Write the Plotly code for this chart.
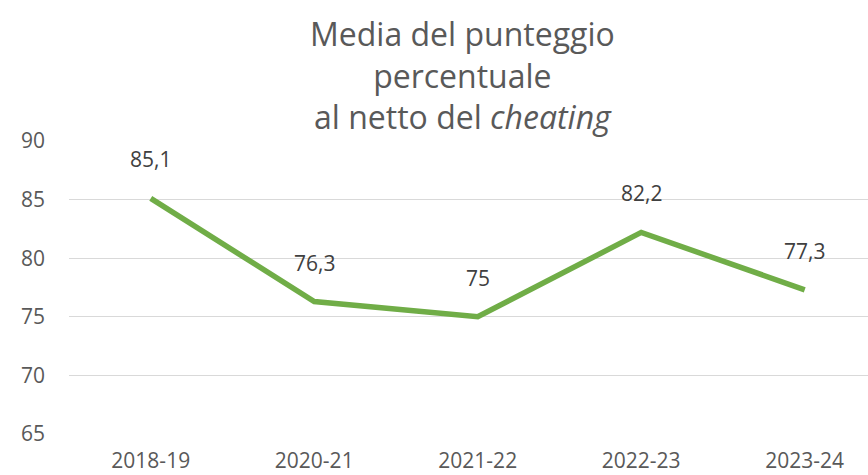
import plotly.graph_objects as go

categories = ["2018-19", "2020-21", "2021-22", "2022-23", "2023-24"]
values = [85.1, 76.3, 75, 82.2, 77.3]
y_ticks = [65, 70, 75, 80, 85, 90]

FONT = "Open Sans"
GRAY = "#595959"

fig = go.Figure()
fig.add_trace(go.Scatter(
    x=categories, y=values, mode="lines",
    line=dict(color="#70AD47", width=5.5),
    hoverinfo="skip", showlegend=False,
))

for c, v in zip(categories, values):
    fig.add_annotation(
        x=c, y=v, text=f"{v:g}".replace(".", ","), showarrow=False,
        yanchor="middle", yshift=39,
        font=dict(family=FONT, size=21, color="#404040"),
    )

fig.add_annotation(
    text="Media del punteggio<br>percentuale<br>al netto del <i>cheating</i>",
    xref="paper", yref="paper", x=0.4919, y=1.2250,
    xanchor="center", yanchor="middle", showarrow=False,
    font=dict(family=FONT, size=32, color=GRAY),
)

fig.update_layout(
    width=868, height=475,
    margin=dict(l=69, r=0, t=141, b=41, autoexpand=False),
    paper_bgcolor="white", plot_bgcolor="white",
    separators=",.",
    xaxis=dict(
        type="category", range=[-0.5, 4.387], automargin=False,
        showgrid=False, showline=False, zeroline=False, ticks="",
        ticklabelstandoff=12,
        tickfont=dict(family=FONT, size=21, color=GRAY),
    ),
    yaxis=dict(
        range=[65, 90], tickvals=y_ticks, automargin=False,
        showgrid=True, gridcolor="#D9D9D9", gridwidth=1.3,
        zeroline=False, showline=False, ticks="",
        ticklabelstandoff=23,
        tickfont=dict(family=FONT, size=21, color=GRAY),
    ),
)

fig.write_html(
    "out.html",
    config={"displayModeBar": False},
    post_script="document.body.style.margin='0';document.body.style.overflow='hidden';",
)
